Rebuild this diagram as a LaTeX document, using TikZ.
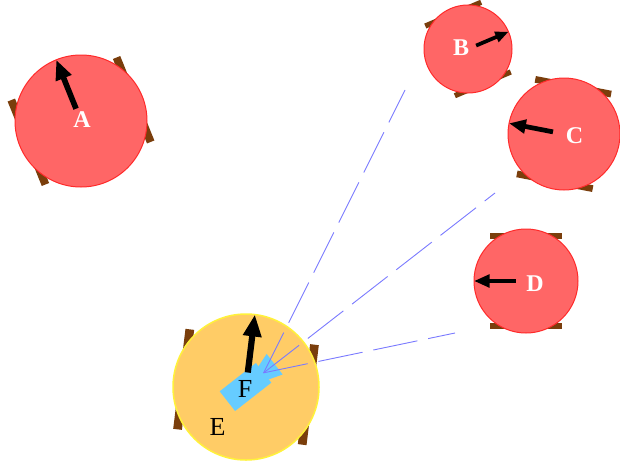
\documentclass[tikz,border=0pt]{standalone}
\usepackage{fontspec}
\setmainfont{Liberation Serif}
\usetikzlibrary{arrows.meta,calc}
\definecolor{robotred}{HTML}{FF6666}
\definecolor{robotedge}{HTML}{FF2A2A}
\definecolor{basefill}{HTML}{FFCC66}
\definecolor{baseedge}{HTML}{FFF23A}
\definecolor{wheelbrown}{HTML}{7A3E0C}
\definecolor{camcyan}{HTML}{66CCFF}
\definecolor{fovblue}{HTML}{7A7AFF}
\tikzset{
  redbody/.style={circle, fill=robotred, draw=robotedge, line width=1pt, inner sep=0pt, outer sep=0pt},
  basebody/.style={circle, fill=basefill, draw=baseedge, line width=1.5pt, inner sep=0pt, outer sep=0pt},
  wlabel/.style={text=white, font=\bfseries\fontsize{24}{24}\selectfont, inner sep=0pt},
  blabel/.style={text=black, font=\fontsize{26}{26}\selectfont, inner sep=0pt},
  fovline/.style={draw=fovblue, line width=0.9pt, dash pattern=on 45pt off 11pt},
}
\newcommand\drawrobot[6]{%
  \pgfmathsetmacro\rwl{0.69*#4}%
  \pgfmathsetmacro\rwi{0.80*#4}%
  \pgfmathsetmacro\rwo{0.92*#4}%
  \pgfmathsetmacro\rsz{2*#4}%
  \pgfmathsetmacro\rlw{0.085*#4}%
  \pgfmathsetmacro\rhl{0.3*#4}%
  \pgfmathsetmacro\rhw{0.24*#4}%
  \pgfmathsetmacro\rst{0.2*#4}%
  \begin{scope}[shift={(#2,#3)}, rotate=#5]
    \fill[wheelbrown] (-\rwl pt, \rwi pt) rectangle (\rwl pt, \rwo pt);
    \fill[wheelbrown] (-\rwl pt, -\rwi pt) rectangle (\rwl pt, -\rwo pt);
  \end{scope}
  \node[#6, minimum size=\rsz pt] (#1) at (#2,#3) {};
  \coordinate (#1s) at ($(#1.center)+(#5:\rst pt)$);
  \coordinate (#1t) at ($(#1.center)+(#5:#4pt)$);
}
\newcommand\drawheading[1]{%
  \draw[line width=\rlw pt, -{Triangle[length=\rhl pt, width=\rhw pt]}] (#1s) -- (#1t);
}
\begin{document}
\begin{tikzpicture}[x=1pt, y=-1pt]
\useasboundingbox (0,0) rectangle (620,463);
% red robots
\drawrobot{A}{81}{121}{66}{112}{redbody}\drawheading{A}
\drawrobot{B}{468}{49}{44}{23}{redbody}\drawheading{B}
\drawrobot{C}{564}{134}{56}{169}{redbody}\drawheading{C}
\drawrobot{D}{526}{281}{52}{180}{redbody}\drawheading{D}
% base robot E
\drawrobot{E}{246}{387}{73}{83}{basebody}
% camera F
\begin{scope}[shift={(245.5,387)}, rotate=38]
  \fill[camcyan] (-23pt,-12.5pt) rectangle (23pt,12.5pt);
  \fill[camcyan] (22pt,-8pt) -- (37pt,-13pt) -- (37pt,13pt) -- (22pt,8pt) -- cycle;
  \coordinate (fov) at (23pt,0pt);
\end{scope}
\drawheading{E}
% field of view lines
\coordinate (tB) at (405,90);
\coordinate (tC) at (495,193);
\coordinate (tD) at (455,333);
\draw[fovline] (fov) -- (tB);
\draw[fovline] (fov) -- (tC);
\draw[fovline] (fov) -- (tD);
% labels
\node[wlabel] (lA) at (82,120) {A};
\node[wlabel] (lB) at (461,48) {B};
\node[wlabel] (lC) at (574.5,135.5) {C};
\node[wlabel] (lD) at (535,283.5) {D};
\node[blabel] (lE) at (217.5,426.5) {E};
\node[blabel] (lF) at (245,389) {F};
\end{tikzpicture}
\end{document}
